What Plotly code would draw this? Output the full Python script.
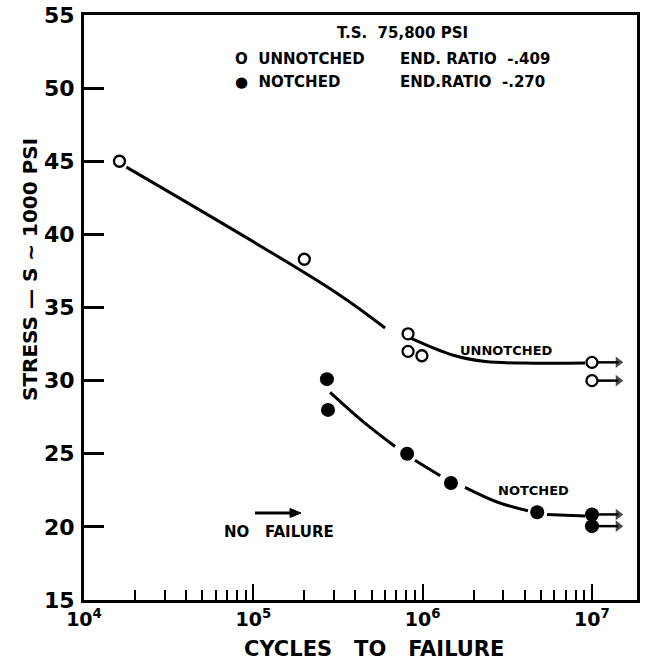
import math
import plotly.graph_objects as go

# ---------------- data ----------------
# Unnotched specimens (open circles), failures
un_cycles = [1.62e4, 2.0e5, 8.2e5, 8.2e5, 9.9e5]
un_stress = [45.0, 38.3, 33.2, 32.0, 31.7]
# Unnotched run-outs (no failure)
un_run_cycles = [1.0e7, 1.0e7]
un_run_stress = [31.25, 30.0]

# Notched specimens (filled circles), failures
no_cycles = [2.72e5, 2.76e5, 8.1e5, 1.47e6, 4.75e6]
no_stress = [30.1, 28.0, 25.0, 23.0, 21.0]
# Notched run-outs (no failure)
no_run_cycles = [1.0e7, 1.0e7]
no_run_stress = [20.85, 20.05]

# Run-out arrow tip (cycles)
arrow_tip_cycles = 1.43e7

# Faired S-N curves (None = break in the drawn line)
un_curve_cycles = [1.78e4, 3.1e5, 6.0e5, None, 8.5e5, 1.5e6, 2.35e6, 4.0e6, 9.1e6]
un_curve_stress = [44.6, 36.0, 33.6, None, 32.9, 31.75, 31.3, 31.2, 31.2]

no_curve_cycles = [2.84e5, 4.45e5, 6.87e5, None, 9.0e5, 1.27e6, None,
                   1.78e6, 2.75e6, 4.19e6, None, 5.43e6, 9.1e6]
no_curve_stress = [29.2, 27.2, 25.5, None, 24.55, 23.5, None,
                   22.7, 21.7, 21.1, None, 20.85, 20.75]

# Axis ticks
y_ticks = [15, 20, 25, 30, 35, 40, 45, 50, 55]
x_major = [1e4, 1e5, 1e6, 1e7]
x_major_text = ["10<sup>4</sup>", "10<sup>5</sup>", "10<sup>6</sup>", "10<sup>7</sup>"]
x_minor = [m * 10 ** e for e in (4, 5, 6) for m in range(2, 10)]

# ---------------- figure ----------------
FONT = "DejaVu Sans"
fig = go.Figure()

line_style = dict(color="black", width=3, shape="spline")
fig.add_trace(go.Scatter(x=un_curve_cycles, y=un_curve_stress, mode="lines",
                         line=line_style, connectgaps=False, hoverinfo="skip"))
fig.add_trace(go.Scatter(x=no_curve_cycles, y=no_curve_stress, mode="lines",
                         line=line_style, connectgaps=False, hoverinfo="skip"))

# run-out arrows (line + arrow-head marker)
for cx, s in list(zip(un_run_cycles, un_run_stress)) + list(zip(no_run_cycles, no_run_stress)):
    fig.add_trace(go.Scatter(x=[cx * 1.08, arrow_tip_cycles], y=[s, s], mode="lines+markers",
                             line=dict(color="black", width=2.5),
                             marker=dict(symbol="triangle-right", size=[0, 10],
                                         color="black", line=dict(width=0)),
                             hoverinfo="skip"))

open_marker = dict(symbol="circle-open", size=11, color="black", line=dict(width=2.3, color="black"))
fill_marker = dict(symbol="circle", size=14, color="black")

fig.add_trace(go.Scatter(x=un_cycles + un_run_cycles, y=un_stress + un_run_stress,
                         mode="markers", marker=open_marker, name="UNNOTCHED"))
fig.add_trace(go.Scatter(x=no_cycles + no_run_cycles, y=no_stress + no_run_stress,
                         mode="markers", marker=fill_marker, name="NOTCHED"))

# plot area in pixels: x 84..637, y 15..600
def px(xp):
    return (xp - 84) / 553.0

def py(yp):
    return (600 - yp) / 585.0

txt = dict(family=FONT, size=15, color="black", weight="bold")
notes = [
    ("T.S.  75,800 PSI", 402, 33, "center"),
    ("O  UNNOTCHED", 233, 59, "left"),
    ("END. RATIO  -.409", 398, 59, "left"),
    ("●  NOTCHED", 233, 82, "left"),
    ("END.RATIO  -.270", 398, 82, "left"),
]
for t, x, y, a in notes:
    fig.add_annotation(text=t, x=px(x), y=py(y), xref="paper", yref="paper",
                       xanchor=a, yanchor="middle", showarrow=False, font=txt)

small = dict(family=FONT, size=13, color="black", weight="bold")
fig.add_annotation(text="UNNOTCHED", x=px(458), y=py(350), xref="paper", yref="paper",
                   xanchor="left", yanchor="middle", showarrow=False, font=small)
fig.add_annotation(text="NOTCHED", x=px(496), y=py(490), xref="paper", yref="paper",
                   xanchor="left", yanchor="middle", showarrow=False, font=small)
fig.add_annotation(text="NO   FAILURE", x=px(222), y=py(532), xref="paper", yref="paper",
                   xanchor="left", yanchor="middle", showarrow=False,
                   font=dict(family=FONT, size=15, color="black", weight="bold"))
# "no failure" key arrow
fig.add_shape(type="line", xref="paper", yref="paper", x0=px(255), x1=px(292),
              y0=py(513), y1=py(513), line=dict(color="black", width=3))
fig.add_shape(type="path", xref="paper", yref="paper",
              path=f"M {px(290)} {py(508.5)} L {px(301)} {py(513)} L {px(290)} {py(517.5)} Z",
              fillcolor="black", line=dict(color="black", width=1))

# axis titles
fig.add_annotation(text="CYCLES   TO   FAILURE", x=px(374), y=py(649), xref="paper", yref="paper",
                   xanchor="center", yanchor="middle", showarrow=False,
                   font=dict(family=FONT, size=21, color="black", weight="bold"))
fig.add_annotation(text="STRESS — S ~ 1000 PSI", x=px(30), y=py(270), xref="paper", yref="paper",
                   xanchor="center", yanchor="middle", showarrow=False, textangle=-90,
                   font=dict(family=FONT, size=20, color="black", weight="bold"))

fig.update_layout(
    width=645, height=667,
    margin=dict(l=84, r=8, t=15, b=67),
    paper_bgcolor="white", plot_bgcolor="white",
    showlegend=False,
    xaxis=dict(type="log", range=[4, 7.266], showgrid=False, zeroline=False,
               automargin=False,
               showline=True, mirror=True, linecolor="black", linewidth=3,
               tickvals=x_major, ticktext=x_major_text, ticks="inside",
               ticklen=16, tickwidth=2, tickcolor="black",
               minor=dict(tickvals=x_minor, ticks="inside", ticklen=10, tickwidth=2,
                          tickcolor="black", showgrid=False),
               tickfont=dict(family=FONT, size=19, color="black", weight="bold")),
    yaxis=dict(range=[15, 55], showgrid=False, zeroline=False,
               automargin=False,
               showline=True, mirror=True, linecolor="black", linewidth=3,
               tickvals=y_ticks, ticks="inside", ticklen=20, tickwidth=2.5,
               tickcolor="black", ticklabelstandoff=2,
               tickfont=dict(family=FONT, size=22, color="black", weight="bold")),
)

fig.write_html("out.html", config={"displayModeBar": False},
               post_script="document.body.style.margin='0';document.body.style.padding='0';")
